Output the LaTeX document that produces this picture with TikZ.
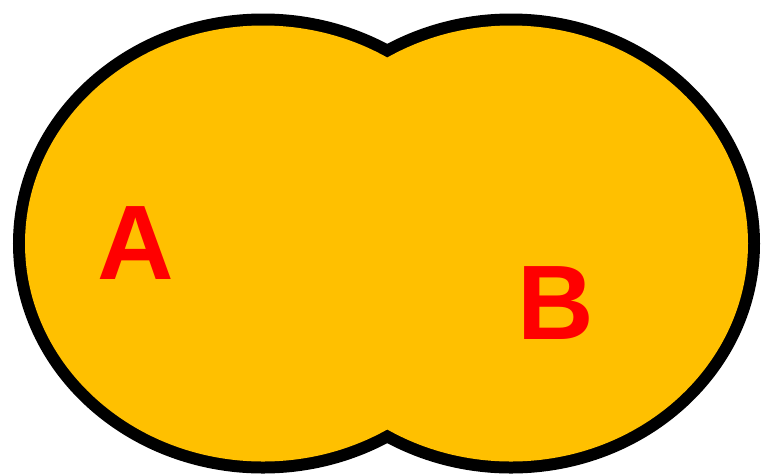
\documentclass[tikz,border=0pt]{standalone}
\usepackage{fontspec}
\setmainfont{Liberation Sans}
\usetikzlibrary{positioning}
\definecolor{lineColor}{RGB}{0,0,0}
\definecolor{blobFill}{RGB}{255,192,0}
\definecolor{labelRed}{RGB}{255,0,0}

\begin{document}
\begin{tikzpicture}[
  x=1pt, y=-1pt,
  outline/.style={draw=lineColor, line width=24pt},
  blob/.style={fill=blobFill},
  letter/.style={font=\fontsize{106}{106}\selectfont\bfseries, text=labelRed, inner sep=0pt, anchor=base}
]
\useasboundingbox (0,0) rectangle (763,475);

% Outline (outer half stays visible)
\draw[outline] (263,243.5) ellipse [x radius=238, y radius=218];
\draw[outline] (511,243.5) ellipse [x radius=237, y radius=218];

% Fill of the union
\fill[blob] (263,243.5) ellipse [x radius=238, y radius=218];
\fill[blob] (511,243.5) ellipse [x radius=237, y radius=218];

% Labels
\node[letter] (labelA) at (136,279) {A};
\node[letter] (labelB) at (556,339) {B};

\end{tikzpicture}
\end{document}
